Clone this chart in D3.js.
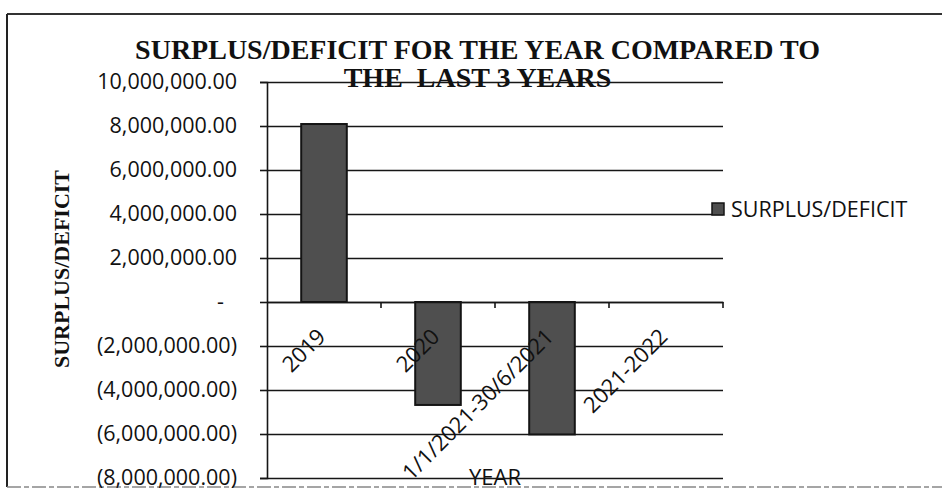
<!DOCTYPE html>
<html>
<head>
<meta charset="utf-8">
<script src="https://cdn.jsdelivr.net/npm/d3@7"></script>
<style>
	body { margin: 0; background: #fff; }
	svg { display: block; }
	.tick-label { font-family: "Open Sans", sans-serif; font-size: 21.5px; fill: #111; }
	.serif-title { font-family: "Liberation Serif", "Times New Roman", serif; font-weight: bold; fill: #111; }
</style>
</head>
<body>
<div id="chart"></div>
<script>
// ---------- DATA ----------
const categories = ["2019", "2020", "1/1/2021-30/6/2021", "2021-2022"];
const surplus = [8090000, -4680000, -6020000, null];
const yTicks = [-8000000, -6000000, -4000000, -2000000, 0, 2000000, 4000000, 6000000, 8000000, 10000000];
const titleLines = ["SURPLUS/DEFICIT FOR THE YEAR COMPARED TO", "THE  LAST 3 YEARS"];
const seriesName = "SURPLUS/DEFICIT";
const yTitle = "SURPLUS/DEFICIT";
const xTitle = "YEAR";

// ---------- LAYOUT ----------
const size = { w: 942, h: 493 };
const margin = { top: 82, right: 219, bottom: 15, left: 267 };
const plot = {
	x0: margin.left,
	x1: size.w - margin.right,
	y0: margin.top,
	y1: size.h - margin.bottom,
};
const ink = "#161616";

const data = categories.map((c, i) => ({ cat: c, value: surplus[i] }));

const svg = d3
	.select("#chart")
	.append("svg")
	.attr("width", size.w)
	.attr("height", size.h);

// outer chart border (only left/top/bottom visible in the scan)
svg.append("line")
	.attr("x1", 7).attr("x2", size.w).attr("y1", 14).attr("y2", 14)
	.attr("stroke", "#333").attr("stroke-width", 2);
svg.append("line")
	.attr("x1", 7).attr("x2", 7).attr("y1", 14).attr("y2", 487)
	.attr("stroke", "#222").attr("stroke-width", 2);
svg.append("line")
	.attr("x1", 7).attr("x2", size.w).attr("y1", 487).attr("y2", 487)
	.attr("stroke", "#888").attr("stroke-width", 1.5)
	.attr("stroke-dasharray", "14 3 5 3");

// scales
const xScale = d3
	.scaleBand()
	.domain(categories)
	.range([plot.x0, plot.x1])
	.paddingInner(0.6)
	.paddingOuter(0.3);

const yScale = d3
	.scaleLinear()
	.domain([d3.min(yTicks), d3.max(yTicks)])
	.range([plot.y1, plot.y0]);

const fmt = d3.format(",.2f");
const accounting = (d) => (d === 0 ? "-" : d < 0 ? `(${fmt(-d)})` : fmt(d));

// title (drawn first so the gridline runs through line 2 like the original)
svg.append("g")
	.selectAll("text")
	.data(titleLines)
	.enter()
	.append("text")
	.classed("serif-title", true)
	.attr("x", 477.5)
	.attr("y", (d, i) => 58.5 + i * 28)
	.attr("text-anchor", "middle")
	.attr("font-size", 28)
	.style("white-space", "pre")
	.text((d) => d);

// x title
svg.append("text")
	.classed("tick-label", true)
	.attr("x", (plot.x0 + plot.x1) / 2)
	.attr("y", 485)
	.attr("text-anchor", "middle")
	.style("font-size", "22px")
	.text(xTitle);

// gridlines
const grid = svg
	.append("g")
	.attr("transform", `translate(${plot.x0}, 0)`)
	.call(
		d3.axisLeft(yScale)
			.tickValues(yTicks)
			.tickSize(-(plot.x1 - plot.x0))
			.tickFormat("")
	);
grid.select(".domain").remove();
grid.selectAll(".tick line").attr("stroke", ink).attr("stroke-width", 1.6);

// y axis with accounting labels
const yAxis = svg
	.append("g")
	.attr("transform", `translate(${plot.x0}, 0)`)
	.call(
		d3.axisLeft(yScale)
			.tickValues(yTicks)
			.tickSize(7)
			.tickPadding(23)
			.tickFormat(accounting)
	);
yAxis.select(".domain").attr("stroke", ink).attr("stroke-width", 1.6);
yAxis.selectAll(".tick line").attr("stroke", ink).attr("stroke-width", 1.6);
yAxis.selectAll(".tick text")
	.attr("class", "tick-label")
	.attr("fill", null)
	.attr("font-family", null)
	.attr("font-size", null)
	.attr("dx", (d) => (d === 0 ? -13 : 0));

// y title
svg.append("text")
	.classed("serif-title", true)
	.attr("font-size", 22)
	.attr("text-anchor", "middle")
	.attr("transform", "translate(69, 269) rotate(-90)")
	.text(yTitle);

// bars
svg.append("g")
	.selectAll("rect")
	.data(data.filter((d) => d.value !== null))
	.enter()
	.append("rect")
	.attr("x", (d) => xScale(d.cat))
	.attr("width", xScale.bandwidth())
	.attr("y", (d) => yScale(Math.max(0, d.value)))
	.attr("height", (d) => Math.abs(yScale(d.value) - yScale(0)))
	.attr("fill", "#4f4f4f")
	.attr("stroke", "#141414")
	.attr("stroke-width", 2);

// category axis at zero, ticks between categories
const xAxis = svg
	.append("g")
	.attr("transform", `translate(0, ${yScale(0)})`)
	.call(d3.axisBottom(xScale).tickSize(6).tickSizeOuter(0).tickFormat(""));
xAxis.select(".domain").attr("stroke", ink).attr("stroke-width", 1.6);
xAxis.selectAll(".tick")
	.attr("transform", (d) => `translate(${xScale(d) + xScale.bandwidth() / 2 + xScale.step() / 2}, 0)`);
xAxis.selectAll(".tick line").attr("stroke", ink).attr("stroke-width", 1.6);

// rotated category labels
svg.append("g")
	.selectAll("text")
	.data(categories)
	.enter()
	.append("text")
	.classed("tick-label", true)
	.style("font-size", "22px")
	.attr("text-anchor", "end")
	.attr("transform", (d) =>
		`translate(${xScale(d) + xScale.bandwidth() / 2 + 3}, ${yScale(0) + 36}) rotate(-45)`
	)
	.text((d) => d);

// legend
const legend = svg.append("g").attr("transform", "translate(712, 203)");
legend.append("rect")
	.attr("width", 12)
	.attr("height", 12)
	.attr("fill", "#4f4f4f")
	.attr("stroke", "#141414")
	.attr("stroke-width", 1.5);
legend.append("text")
	.classed("tick-label", true)
	.attr("x", 19)
	.attr("y", 6)
	.attr("dy", "0.35em")
	.text(seriesName);
</script>
</body>
</html>
